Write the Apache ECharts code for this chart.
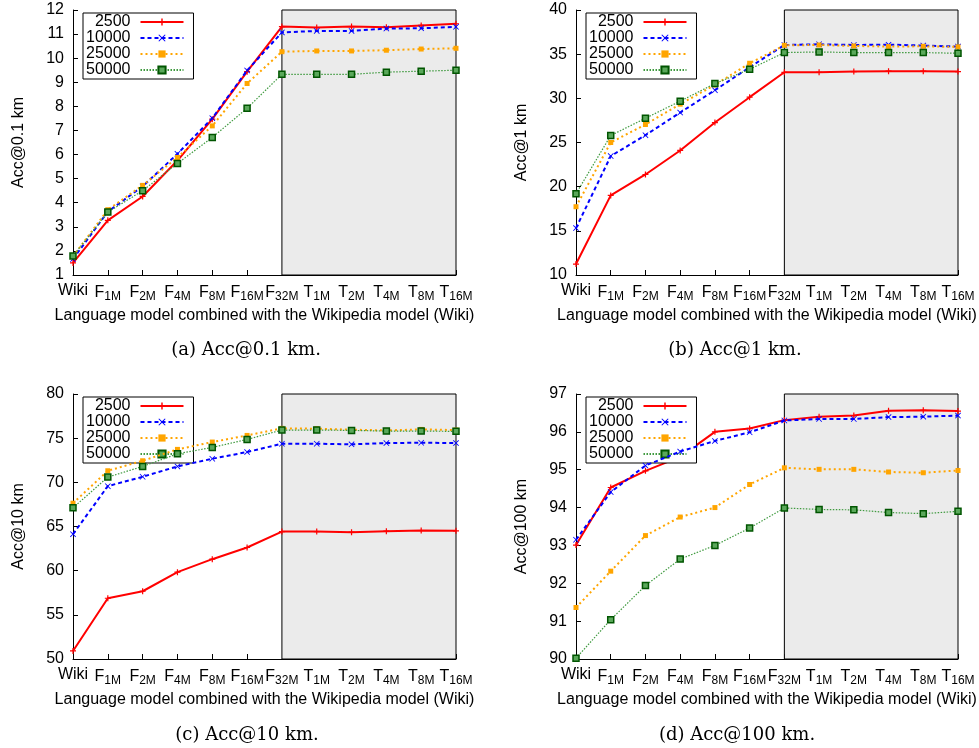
<!DOCTYPE html>
<html>
<head>
<meta charset="utf-8">
<script src="https://cdn.jsdelivr.net/npm/echarts@6/dist/echarts.min.js"></script>
<style>
  html, body { margin: 0; padding: 0; background: #fff; }
  #main { width: 979px; height: 748px; }
</style>
</head>
<body>
<div id="main"></div>
<script>
// x 轴类别
const categories = ['Wiki', 'F1M', 'F2M', 'F4M', 'F8M', 'F16M', 'F32M', 'T1M', 'T2M', 'T4M', 'T8M', 'T16M']
const sizeNames = ['2500', '10000', '25000', '50000']

// (a) Acc@0.1 km
const acc01_2500 = [1.50, 3.27, 4.26, 5.75, 7.47, 9.44, 11.31, 11.27, 11.31, 11.28, 11.36, 11.43]
const acc01_10000 = [1.66, 3.63, 4.68, 6.03, 7.51, 9.49, 11.07, 11.13, 11.13, 11.23, 11.24, 11.30]
const acc01_25000 = [1.77, 3.71, 4.72, 5.88, 7.19, 8.95, 10.27, 10.30, 10.30, 10.33, 10.38, 10.41]
const acc01_50000 = [1.79, 3.61, 4.50, 5.63, 6.71, 7.92, 9.33, 9.33, 9.33, 9.42, 9.46, 9.50]

// (b) Acc@1 km
const acc1_2500 = [11.24, 19.01, 21.38, 24.10, 27.26, 30.13, 32.95, 32.95, 33.03, 33.07, 33.07, 33.03]
const acc1_10000 = [15.31, 23.46, 25.83, 28.39, 30.92, 33.52, 36.04, 36.12, 36.04, 36.08, 35.97, 35.86]
const acc1_25000 = [17.73, 25.00, 27.04, 29.34, 31.52, 33.97, 36.00, 36.04, 35.93, 35.86, 35.89, 35.82]
const acc1_50000 = [19.20, 25.79, 27.75, 29.68, 31.67, 33.29, 35.18, 35.25, 35.18, 35.18, 35.18, 35.10]

// (c) Acc@10 km
const acc10_2500 = [50.91, 56.88, 57.67, 59.83, 61.30, 62.62, 64.43, 64.43, 64.36, 64.47, 64.55, 64.51]
const acc10_10000 = [64.13, 69.57, 70.63, 71.80, 72.67, 73.43, 74.37, 74.37, 74.30, 74.45, 74.48, 74.45]
const acc10_25000 = [67.64, 71.31, 72.44, 73.73, 74.56, 75.31, 76.11, 76.07, 75.96, 75.88, 75.99, 75.92]
const acc10_50000 = [67.11, 70.59, 71.80, 73.23, 73.95, 74.86, 75.92, 75.92, 75.88, 75.80, 75.80, 75.77]

// (d) Acc@100 km
const acc100_2500 = [93.01, 94.53, 94.97, 95.34, 96.00, 96.09, 96.31, 96.40, 96.43, 96.56, 96.57, 96.55]
const acc100_10000 = [93.15, 94.41, 95.11, 95.48, 95.76, 95.99, 96.30, 96.34, 96.34, 96.39, 96.40, 96.43]
const acc100_25000 = [91.36, 92.32, 93.26, 93.75, 94.00, 94.61, 95.05, 95.01, 95.01, 94.94, 94.92, 94.98]
const acc100_50000 = [90.02, 91.04, 91.94, 92.64, 93.00, 93.46, 93.99, 93.95, 93.94, 93.87, 93.84, 93.90]

const panels = [
  { yName: 'Acc@0.1 km', caption: '(a) Acc@0.1 km.', min: 1, max: 12, interval: 1, series: [acc01_2500, acc01_10000, acc01_25000, acc01_50000] },
  { yName: 'Acc@1 km', caption: '(b) Acc@1 km.', min: 10, max: 40, interval: 5, series: [acc1_2500, acc1_10000, acc1_25000, acc1_50000] },
  { yName: 'Acc@10 km', caption: '(c) Acc@10 km.', min: 50, max: 80, interval: 5, series: [acc10_2500, acc10_10000, acc10_25000, acc10_50000] },
  { yName: 'Acc@100 km', caption: '(d) Acc@100 km.', min: 90, max: 97, interval: 1, series: [acc100_2500, acc100_10000, acc100_25000, acc100_50000] }
]

// 每个子图的位置
const grids = [
  { left: 73, top: 10, width: 383, height: 265 },
  { left: 576, top: 10, width: 382, height: 265 },
  { left: 73, top: 394, width: 383, height: 265 },
  { left: 576, top: 394, width: 382, height: 265 }
]
const captionPos = [[246, 350], [735, 350], [247, 735], [737, 735]]

const FONT = '"Liberation Sans", Arial, sans-serif'
const PLUS = 'path://M4,0H6V4H10V6H6V10H4V6H0V4H4Z'
const CROSS = 'path://M1,0L5,4L9,0L10,1L6,5L10,9L9,10L5,6L1,10L0,9L4,5L0,1Z'

// 各曲线样式
const lineStyles = [
  { lineStyle: { color: '#ff0000', width: 2, type: 'solid' }, symbol: PLUS, symbolSize: 6, itemStyle: { color: '#ff0000' } },
  { lineStyle: { color: '#0000ff', width: 2, type: [4, 3] }, symbol: CROSS, symbolSize: 6, itemStyle: { color: '#0000ff' } },
  { lineStyle: { color: '#ffa500', width: 2, type: [2, 3] }, symbol: 'rect', symbolSize: 5, itemStyle: { color: '#ffa500' } },
  { lineStyle: { color: '#3f9a3f', width: 1.2, type: [1.5, 1.5] }, symbol: 'rect', symbolSize: 6, itemStyle: { color: '#5aa85a', borderColor: '#005500', borderWidth: 1.5 } }
]

function xLabel (v) {
  if (v === 'Wiki') return '{m|Wiki}'
  return '{m|' + v[0] + '}{s|' + v.slice(1) + '}'
}

const option = {
  animation: false,
  backgroundColor: '#fff',
  grid: grids.map(g => Object.assign({ outerBoundsMode: 'none', containLabel: false }, g)),
  xAxis: grids.map((g, i) => ({
    type: 'category',
    gridIndex: i,
    data: categories,
    boundaryGap: false,
    name: 'Language model combined with the Wikipedia model (Wiki)',
    nameLocation: 'middle',
    nameGap: 33,
    nameTextStyle: { fontSize: 16, color: '#000', fontFamily: FONT },
    axisLine: { show: true, lineStyle: { color: '#000', width: 1 } },
    axisTick: { show: true, inside: true, length: 5, lineStyle: { color: '#000' } },
    axisLabel: {
      interval: 0,
      margin: 8,
      color: '#000',
      formatter: xLabel,
      rich: {
        m: { fontSize: 16, fontFamily: FONT, color: '#000' },
        s: { fontSize: 12, fontFamily: FONT, color: '#000', padding: [8, 0, 0, 0] }
      }
    },
    splitLine: { show: false }
  })),
  yAxis: panels.map((p, i) => ({
    type: 'value',
    gridIndex: i,
    min: p.min,
    max: p.max,
    interval: p.interval,
    name: p.yName,
    nameLocation: 'middle',
    nameGap: 46,
    nameTextStyle: { fontSize: 16, color: '#000', fontFamily: FONT },
    axisLine: { show: true, lineStyle: { color: '#000', width: 1 } },
    axisTick: { show: true, inside: true, length: 5, lineStyle: { color: '#000' } },
    axisLabel: { margin: 9, fontSize: 16, color: '#000', fontFamily: FONT },
    splitLine: { show: false }
  })),
  legend: grids.map(g => ({
    data: sizeNames,
    orient: 'vertical',
    align: 'right',
    left: g.left + 10,
    top: g.top + 3,
    itemWidth: 43,
    itemHeight: 9,
    itemGap: 0,
    padding: [1, 9, 1, 3],
    borderColor: '#000',
    borderWidth: 1,
    backgroundColor: '#fff',
    selectedMode: false,
    textStyle: { fontSize: 16, color: '#000', fontFamily: FONT, lineHeight: 16, padding: [0, 5, 0, 0] }
  })),
  graphic: panels.map((p, i) => ({
    type: 'text',
    x: captionPos[i][0],
    y: captionPos[i][1],
    style: {
      text: p.caption,
      font: '18px "DejaVu Serif", serif',
      fill: '#000',
      align: 'center',
      verticalAlign: 'middle'
    }
  })),
  series: []
}

panels.forEach((p, i) => {
  // 灰色区域 (T 模型)
  option.series.push({
    type: 'line',
    name: 'shade' + i,
    xAxisIndex: i,
    yAxisIndex: i,
    data: [],
    silent: true,
    z: 1,
    markArea: {
      silent: true,
      itemStyle: { color: '#ebebeb', borderColor: '#000', borderWidth: 1 },
      data: [[{ xAxis: 'F32M' }, { xAxis: 'T16M' }]]
    }
  })
  p.series.forEach((d, k) => {
    option.series.push(Object.assign({
      type: 'line',
      name: sizeNames[k],
      xAxisIndex: i,
      yAxisIndex: i,
      data: d,
      showSymbol: true,
      showAllSymbol: true,
      z: 3 + k
    }, lineStyles[k]))
  })
})

const chart = echarts.init(document.getElementById('main'))
chart.setOption(option)
</script>
</body>
</html>
